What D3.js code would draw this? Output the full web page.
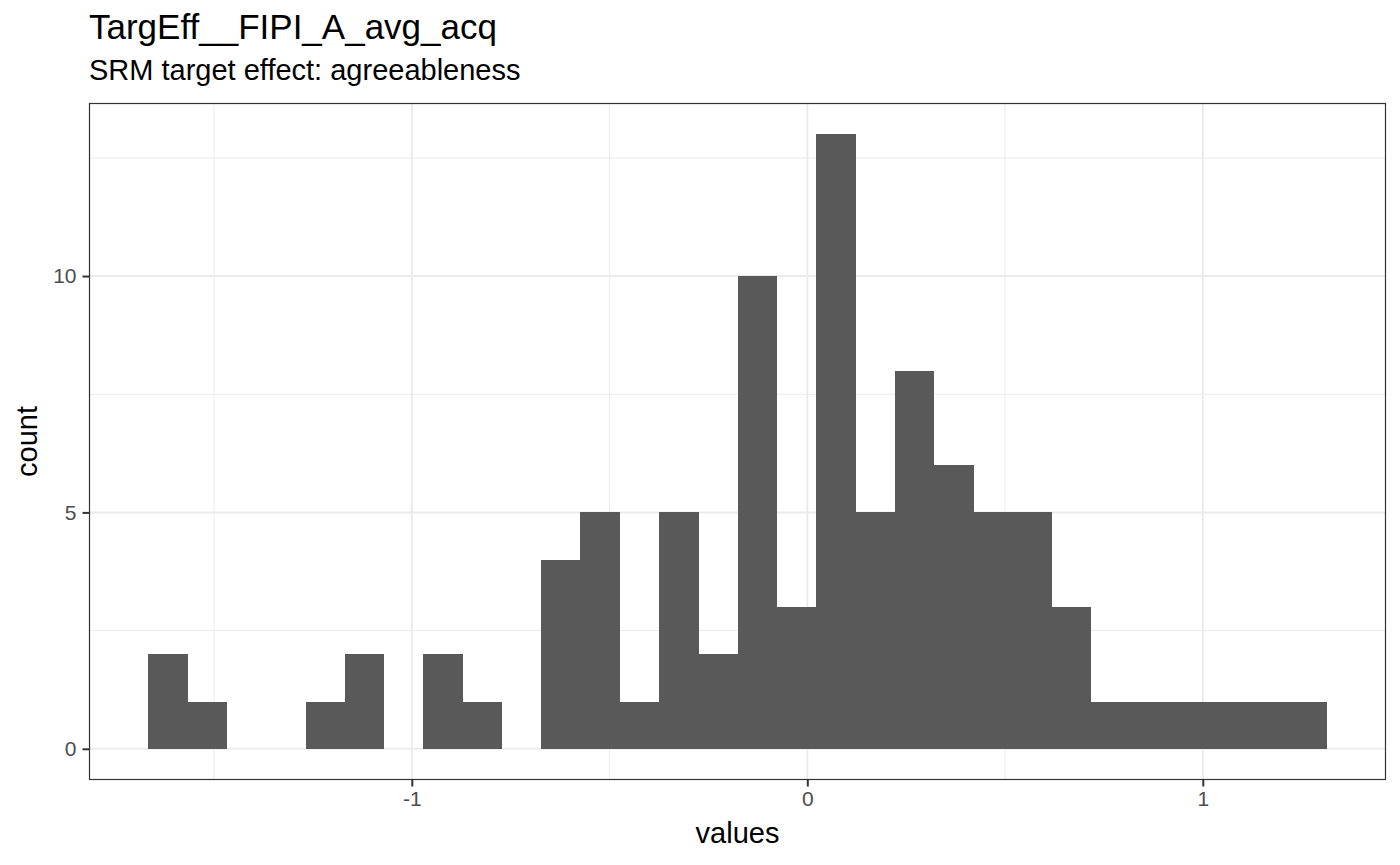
<!DOCTYPE html>
<html><head><meta charset="utf-8">
<script src="https://cdn.jsdelivr.net/npm/d3@7"></script>
<style>body{margin:0;background:#fff;} svg{display:block;font-family:"Liberation Sans",Arial,Helvetica,sans-serif;}</style>
</head><body>
<script>
const titleText = "TargEff__FIPI_A_avg_acq";
const subtitleText = "SRM target effect: agreeableness";
const xLabel = "values";
const yLabel = "count";
const binStart = -1.666;
const binEnd = 1.313;
const counts = [2,1,0,0,1,2,0,2,1,0,4,5,1,5,2,10,3,13,5,8,6,5,5,3,1,1,1,1,1,1];
const xMajor = [-1,0,1];
const xMinor = [-1.5,-0.5,0.5];
const yMajor = [0,5,10];
const yMinor = [2.5,7.5,12.5];

const W=1400,H=865;
const L=89.5,R=1385.5,T=103.5,B=779.5;
const svg=d3.select("body").append("svg").attr("width",W).attr("height",H);

const bw=(binEnd-binStart)/counts.length;
const bins=counts.map((c,i)=>({x0:binStart+i*bw,x1:binStart+(i+1)*bw,c}));
const xr=binEnd-binStart;
const x=d3.scaleLinear().domain([binStart-0.05*xr,binEnd+0.05*xr]).range([L,R]);
const ymax=d3.max(counts);
const y=d3.scaleLinear().domain([-0.05*ymax,ymax*1.05]).range([B,T]);

const g=svg.append("g");
g.append("rect").attr("x",L).attr("y",T).attr("width",R-L).attr("height",B-T).attr("fill","#fff");
g.selectAll(".xmin").data(xMinor).join("line").attr("x1",d=>x(d)).attr("x2",d=>x(d)).attr("y1",T).attr("y2",B).attr("stroke","#ebebeb").attr("stroke-width",1);
g.selectAll(".ymin").data(yMinor).join("line").attr("y1",d=>y(d)).attr("y2",d=>y(d)).attr("x1",L).attr("x2",R).attr("stroke","#ebebeb").attr("stroke-width",1);
g.selectAll(".xmaj").data(xMajor).join("line").attr("x1",d=>x(d)).attr("x2",d=>x(d)).attr("y1",T).attr("y2",B).attr("stroke","#ebebeb").attr("stroke-width",2);
g.selectAll(".ymaj").data(yMajor).join("line").attr("y1",d=>y(d)).attr("y2",d=>y(d)).attr("x1",L).attr("x2",R).attr("stroke","#ebebeb").attr("stroke-width",2);

g.selectAll(".bar").data(bins.filter(d=>d.c>0)).join("rect")
 .attr("x",d=>x(d.x0)).attr("width",d=>x(d.x1)-x(d.x0)+0.4)
 .attr("y",d=>y(d.c)).attr("height",d=>y(0)-y(d.c)).attr("fill","#595959").attr("shape-rendering","crispEdges");

g.append("rect").attr("x",L).attr("y",T).attr("width",R-L).attr("height",B-T).attr("fill","none").attr("stroke","#333").attr("stroke-width",1.2);

const fmt=d=>String(d);
const xAxis=d3.axisBottom(x).tickValues(xMajor).tickSize(7).tickPadding(5).tickFormat(fmt);
const xa=svg.append("g").attr("transform",`translate(0,${B})`).call(xAxis);
xa.select(".domain").remove();
xa.selectAll(".tick line").attr("stroke","#333").attr("stroke-width",2);
xa.selectAll("text").attr("fill","#4d4d4d").style("font-size","21px").style("font-family","Liberation Sans, Arial, sans-serif");

const yAxis=d3.axisLeft(y).tickValues(yMajor).tickSize(7).tickPadding(6).tickFormat(fmt);
const ya=svg.append("g").attr("transform",`translate(${L},0)`).call(yAxis);
ya.select(".domain").remove();
ya.selectAll(".tick line").attr("stroke","#333").attr("stroke-width",2);
ya.selectAll("text").attr("fill","#4d4d4d").style("font-size","21px").style("font-family","Liberation Sans, Arial, sans-serif");

svg.append("text").attr("x",89).attr("y",39).text(titleText).style("font-size","35px").attr("fill","#000");
svg.append("text").attr("x",89).attr("y",80).text(subtitleText).style("font-size","29px").attr("fill","#000");
svg.append("text").attr("x",(L+R)/2).attr("y",843).attr("text-anchor","middle").text(xLabel).style("font-size","29px");
svg.append("text").attr("transform",`translate(37,${(T+B)/2}) rotate(-90)`).attr("text-anchor","middle").text(yLabel).style("font-size","29px");
</script>
</body></html>
